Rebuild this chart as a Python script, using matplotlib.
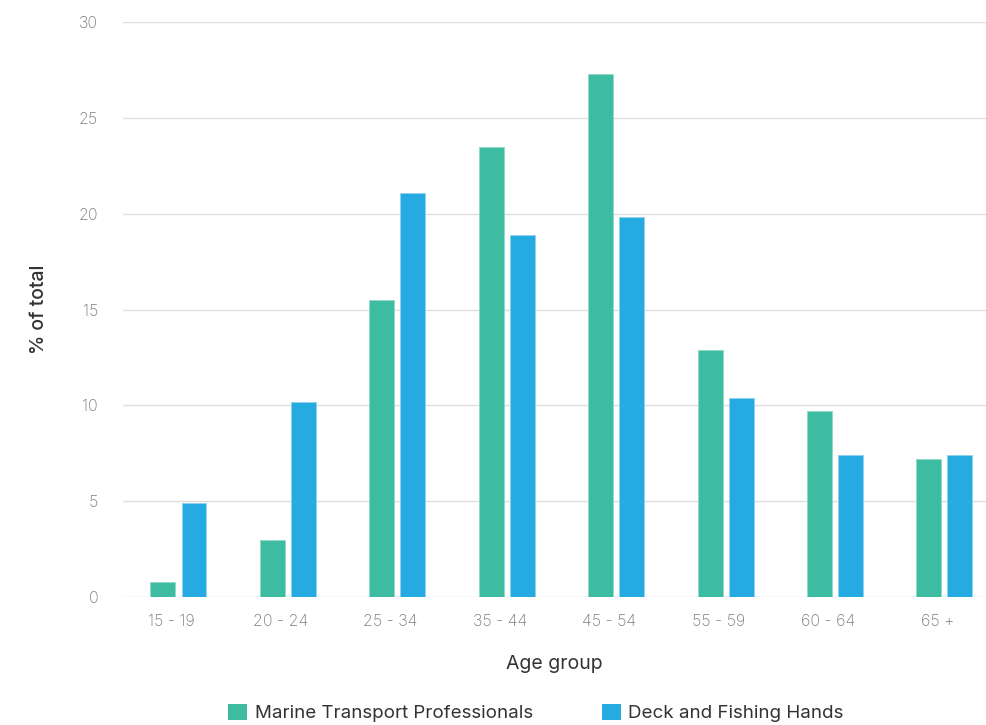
import matplotlib

matplotlib.use("Agg")
import matplotlib.pyplot as plt
import numpy as np
from matplotlib.patches import Patch

AGE_GROUPS = ["15 - 19", "20 - 24", "25 - 34", "35 - 44", "45 - 54", "55 - 59", "60 - 64", "65 +"]
MARINE = [0.8, 3.0, 15.5, 23.5, 27.3, 12.9, 9.7, 7.2]
DECK = [4.9, 10.2, 21.1, 18.9, 19.8, 10.4, 7.4, 7.4]
SERIES = ["Marine Transport Professionals", "Deck and Fishing Hands"]

GREEN = "#3DBCA1"
BLUE = "#25AAE1"
GRID = "#DEDEDE"

plt.rcParams["font.family"] = ["Inter", "DejaVu Sans"]


def main():
    fig = plt.figure(figsize=(9.86, 7.25), dpi=100)
    # axes box in figure pixels: x 123..986, y 22..597
    ax = fig.add_axes([123 / 986, 1 - 597 / 725, 863 / 986, 575 / 725])

    x = np.arange(len(AGE_GROUPS))
    w = 0.228
    off = 0.142
    ax.bar(x - off, MARINE, w, color=GREEN, edgecolor="#8FD9C8", lw=0.6, zorder=3)
    ax.bar(x + off, DECK, w, color=BLUE, edgecolor="#8FD2F0", lw=0.6, zorder=3)

    ax.set_xlim(-0.507, 7.38)
    ax.set_ylim(0, 30)
    ax.set_yticks(range(0, 31, 5))
    ax.set_xticks(x - 0.065)
    ax.set_xticklabels(AGE_GROUPS)
    ax.tick_params(axis="both", length=0, labelsize=11.5, labelcolor="#7A7A7A")
    ax.tick_params(axis="y", pad=18)
    ax.tick_params(axis="x", pad=12)
    for lab in ax.get_xticklabels() + ax.get_yticklabels():
        lab.set_fontweight("light")

    ax.grid(axis="y", color=GRID, lw=1.0, zorder=0)
    ax.set_axisbelow(True)
    for s in ax.spines.values():
        s.set_visible(False)

    ax.set_xlabel("Age group", fontsize=14, color="#333333", labelpad=19)
    ax.set_ylabel("% of total", fontsize=14, color="#333333", labelpad=22,
                  fontweight="medium")

    handles = [Patch(facecolor=GREEN, edgecolor="none"), Patch(facecolor=BLUE, edgecolor="none")]
    fig.legend(handles, SERIES, loc="center", ncol=2, frameon=False,
               bbox_to_anchor=(536 / 986, 1 - 713 / 725), fontsize=13.5,
               handlelength=1.0, handleheight=1.0, handletextpad=0.4,
               columnspacing=3.7, labelcolor="#333333")

    fig.savefig("out.png", dpi=100)


if __name__ == "__main__":
    main()
